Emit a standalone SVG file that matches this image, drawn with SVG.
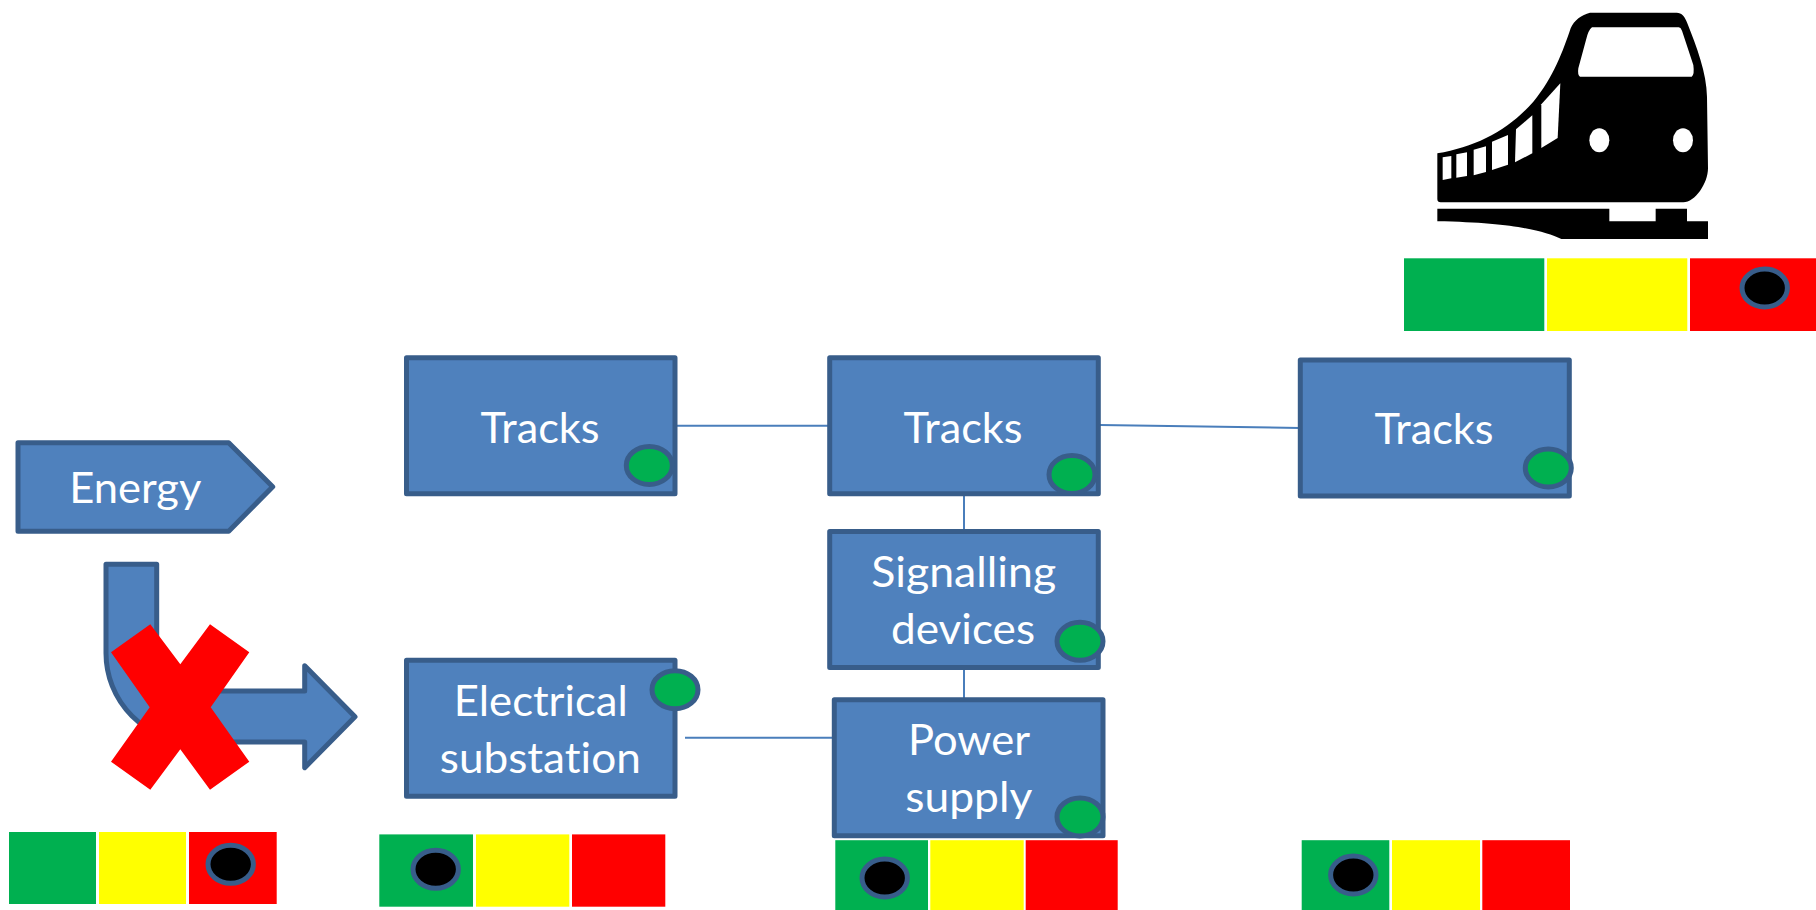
<svg xmlns="http://www.w3.org/2000/svg" width="1816" height="910" viewBox="0 0 1816 910">
<style>
.box{fill:#4f81bd;stroke:#385d8a;stroke-width:5;stroke-linejoin:round}
.lbl{fill:#fff;font-family:"Lato","Open Sans","Liberation Sans",sans-serif;font-size:43px;text-anchor:middle;font-variant-ligatures:none}
.ok{fill:#00b050;stroke:#385d8a;stroke-width:5}
.mark{fill:#000;stroke:#385d8a;stroke-width:5}
.g{fill:#00b050}.y{fill:#ffff00}.r{fill:#ff0000}
.link{stroke:#4a7ebb;stroke-width:2;fill:none}
</style>
<rect width="1816" height="910" fill="#fff"/>
<g id="connectors">
<line class="link" x1="675" y1="425.8" x2="830" y2="425.8"/>
<line class="link" x1="1100" y1="425" x2="1300" y2="428"/>
<line class="link" x1="964" y1="494" x2="964" y2="532"/>
<line class="link" x1="964" y1="665" x2="964" y2="699"/>
<line class="link" x1="685" y1="737.8" x2="837" y2="737.8"/>
</g>
<g id="energy">
<path class="box" d="M18 442.7H228.7L272.7 486.7L228.7 531.3H18Z"/>
<text class="lbl" x="135.3" y="503" textLength="132" lengthAdjust="spacingAndGlyphs">Energy</text>
</g>
<g id="bent-arrow">
<path class="box" d="M106 564.3H156.7V653.3A38 38 0 0 0 194.7 691H304.7V665.7L355 716.7L304.7 767.7V742H194.7A88.7 88.7 0 0 1 106 653.3Z"/>
</g>
<g id="cross">
<path class="r" d="M150.3 624.3L180.3 664.3L210 624.3L249.3 652.3L210.7 707.3L249.3 761.7L210 789.7L180.3 749.3L150.3 789.7L111 761.7L149.7 707.3L111 652.3Z"/>
</g>
<g id="tracks-1">
<rect class="box" x="406.5" y="357.8" width="268.5" height="136"/>
<text class="lbl" x="540" y="442.5" textLength="119" lengthAdjust="spacingAndGlyphs">Tracks</text>
<ellipse class="ok" cx="649.3" cy="465.4" rx="23" ry="19"/>
</g>
<g id="tracks-2">
<rect class="box" x="829.7" y="357.8" width="268.6" height="136"/>
<text class="lbl" x="963" y="442.5" textLength="119" lengthAdjust="spacingAndGlyphs">Tracks</text>
<ellipse class="ok" cx="1072" cy="474.5" rx="23" ry="19"/>
</g>
<g id="tracks-3">
<rect class="box" x="1300.3" y="359.9" width="269" height="136"/>
<text class="lbl" x="1434" y="444.3" textLength="119" lengthAdjust="spacingAndGlyphs">Tracks</text>
<ellipse class="ok" cx="1548.3" cy="468" rx="23" ry="19"/>
</g>
<g id="signalling-devices">
<rect class="box" x="829.7" y="531.5" width="268.6" height="136"/>
<text class="lbl" x="963.7" y="587.2" textLength="185" lengthAdjust="spacingAndGlyphs">Signalling</text>
<text class="lbl" x="963" y="643.5" textLength="144" lengthAdjust="spacingAndGlyphs">devices</text>
<ellipse class="ok" cx="1080" cy="641.3" rx="23" ry="19"/>
</g>
<g id="power-supply">
<rect class="box" x="834.3" y="699.8" width="268.7" height="136"/>
<text class="lbl" x="969" y="754.8" textLength="122" lengthAdjust="spacingAndGlyphs">Power</text>
<text class="lbl" x="968.8" y="812.2" textLength="127" lengthAdjust="spacingAndGlyphs">supply</text>
<ellipse class="ok" cx="1080" cy="816.9" rx="23" ry="19"/>
</g>
<g id="electrical-substation">
<rect class="box" x="406.5" y="660.2" width="268.5" height="136"/>
<text class="lbl" x="540.8" y="715.5" textLength="174" lengthAdjust="spacingAndGlyphs">Electrical</text>
<text class="lbl" x="540.3" y="772.6" textLength="201" lengthAdjust="spacingAndGlyphs">substation</text>
<ellipse class="ok" cx="675" cy="689.7" rx="23" ry="19"/>
</g>
<g id="status-energy">
<rect class="g" x="9" y="832" width="87" height="72"/>
<rect class="y" x="99" y="832" width="87" height="72"/>
<rect class="r" x="189" y="832" width="87.7" height="72"/>
<ellipse class="mark" cx="230.7" cy="864.3" rx="22.7" ry="19"/>
</g>
<g id="status-substation">
<rect class="g" x="379.3" y="834.4" width="93.7" height="72.3"/>
<rect class="y" x="476" y="834.4" width="93.3" height="72.3"/>
<rect class="r" x="572" y="834.4" width="93.3" height="72.3"/>
<ellipse class="mark" cx="435.7" cy="869.3" rx="22.7" ry="19"/>
</g>
<g id="status-power">
<rect class="g" x="835.3" y="840.2" width="92.7" height="72"/>
<rect class="y" x="930.3" y="840.2" width="93.4" height="72"/>
<rect class="r" x="1025.7" y="840.2" width="92" height="72"/>
<ellipse class="mark" cx="884.7" cy="878" rx="22.7" ry="19"/>
</g>
<g id="status-tracks">
<rect class="g" x="1301.7" y="840.2" width="87.6" height="72"/>
<rect class="y" x="1392" y="840.2" width="88" height="72"/>
<rect class="r" x="1482.3" y="840.2" width="87.7" height="72"/>
<ellipse class="mark" cx="1353.3" cy="875" rx="22.7" ry="19"/>
</g>
<g id="status-train">
<rect class="g" x="1404" y="258.3" width="140.3" height="72.7"/>
<rect class="y" x="1547" y="258.3" width="140.3" height="72.7"/>
<rect class="r" x="1690" y="258.3" width="126" height="72.7"/>
<ellipse class="mark" cx="1764.7" cy="288" rx="22.7" ry="19"/>
</g>
<g id="train" transform="translate(1380 0) scale(.33333)">
<path d="M172 460C290 440 385 390 460 305C520 235 550 150 572 85C582 60 605 45 630 38H890C905 38 915 50 922 70C950 140 980 220 981 290L984 505C984 550 945 607 910 607H182Q172 607 172 597Z"/>
<path d="M172 626H688V664H827V626H921V664H984V717H544C490 692 400 668 172 664Z"/>
<g fill="#fff">
<path d="M636 82H896Q902 82 906 92L940 195Q944 225 935 230H600Q592 225 595 205L618 120Q625 90 636 82Z"/>
<path d="M188 472L214 468V535L188 540Z"/>
<path d="M229 463L261 457V528L229 533Z"/>
<path d="M281 449L318 439V516L281 526Z"/>
<path d="M336 425L384 405V494L336 510Z"/>
<path d="M408 388L457 346V460L405 487Z"/>
<path d="M484 313L541 250L533 414L484 444Z"/>
<ellipse cx="658" cy="421" rx="30" ry="36"/>
<ellipse cx="909" cy="421" rx="30" ry="36"/>
</g>
</g>
</svg>
